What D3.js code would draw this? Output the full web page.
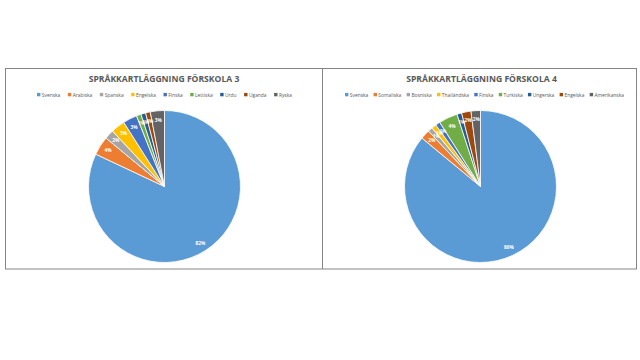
<!DOCTYPE html>
<html><head><meta charset="utf-8">
<script src="https://cdn.jsdelivr.net/npm/d3@7"></script>
<style>body{margin:0;background:#fff}svg{display:block}</style>
</head><body>
<svg id="c" width="640" height="360"></svg>
<script>
const colors = ["#5B9BD5","#ED7D31","#A5A5A5","#FFC000","#4472C4","#70AD47","#255E91","#9E480E","#636363"];
const title1 = "SPRÅKKARTLÄGGNING FÖRSKOLA 3";
const cats1 = ["Svenska","Arabiska","Spanska","Engelska","Finska","Lettiska","Urdu","Uganda","Ryska"];
const vals1 = [82,4,2,3,3,1,1,1,3];
const title2 = "SPRÅKKARTLÄGGNING FÖRSKOLA 4";
const cats2 = ["Svenska","Somaliska","Bosniska","Thailändska","Finska","Turkiska","Ungerska","Engelska","Amerikanska"];
const vals2 = [86,2,1,1,1,4,1,2,2];

const svg = d3.select("#c");
const font = "'Open Sans', 'Liberation Sans', sans-serif";

// borders
svg.append("rect").attr("x",5.5).attr("y",68.5).attr("width",631).attr("height",200.5)
  .attr("fill","none").attr("stroke","#858585").attr("stroke-width",1);
svg.append("line").attr("x1",322.5).attr("x2",322.5).attr("y1",68.5).attr("y2",269)
  .attr("stroke","#858585").attr("stroke-width",1);

function drawChart(title, cats, vals, cx, cy, r, tx, legX0, legX1){
  const g = svg.append("g");
  g.append("text").attr("x",tx).attr("y",82).attr("text-anchor","middle")
    .attr("font-family",font).attr("font-size",8.6).attr("font-weight","bold")
    .attr("fill","#595959").text(title);

  // legend
  const lg = g.append("g");
  const items = lg.selectAll("g").data(cats).join("g");
  items.append("rect").attr("width",3.4).attr("height",3.4).attr("y",-3.1)
    .attr("fill",(d,i)=>colors[i]);
  items.append("text").attr("x",4.8).attr("y",0.8)
    .attr("font-family",font).attr("font-size",4.9).attr("fill","#595959").text(d=>d);
  const widths = [];
  items.each(function(){ widths.push(4.8 + d3.select(this).select("text").node().getComputedTextLength()); });
  const gap = ((legX1 - legX0) - d3.sum(widths)) / (cats.length - 1);
  let x = legX0;
  items.each(function(d,i){
    d3.select(this).attr("transform",`translate(${x},96)`);
    x += widths[i] + gap;
  });

  const data = cats.map((c,i)=>({c, v: vals[i], i}));
  const pie = d3.pie().value(d=>d.v).sort(null);
  const arcs = pie(data);
  const arc = d3.arc().innerRadius(0).outerRadius(r);
  const pg = g.append("g").attr("transform",`translate(${cx},${cy})`);
  pg.selectAll("path").data(arcs).join("path").attr("d",arc)
    .attr("fill",d=>colors[d.data.i]).attr("stroke","#fff").attr("stroke-width",0.8);
  const total2 = d3.sum(vals);
  const la = d3.arc().innerRadius(r*0.88).outerRadius(r*0.88);
  pg.selectAll("text").data(arcs).join("text")
    .attr("transform",d=>`translate(${la.centroid(d)})`)
    .attr("text-anchor","middle").attr("dy","0.35em")
    .attr("font-family",font).attr("font-size",4.8).attr("font-weight","bold")
    .attr("fill","#fff").text(d=>Math.round(d.data.v/total2*100)+"%");
}

drawChart(title1, cats1, vals1, 164.5, 186.5, 76, 164, 37, 292);
drawChart(title2, cats2, vals2, 480.5, 186.5, 76, 481.5, 345, 624);
</script>
</body></html>
